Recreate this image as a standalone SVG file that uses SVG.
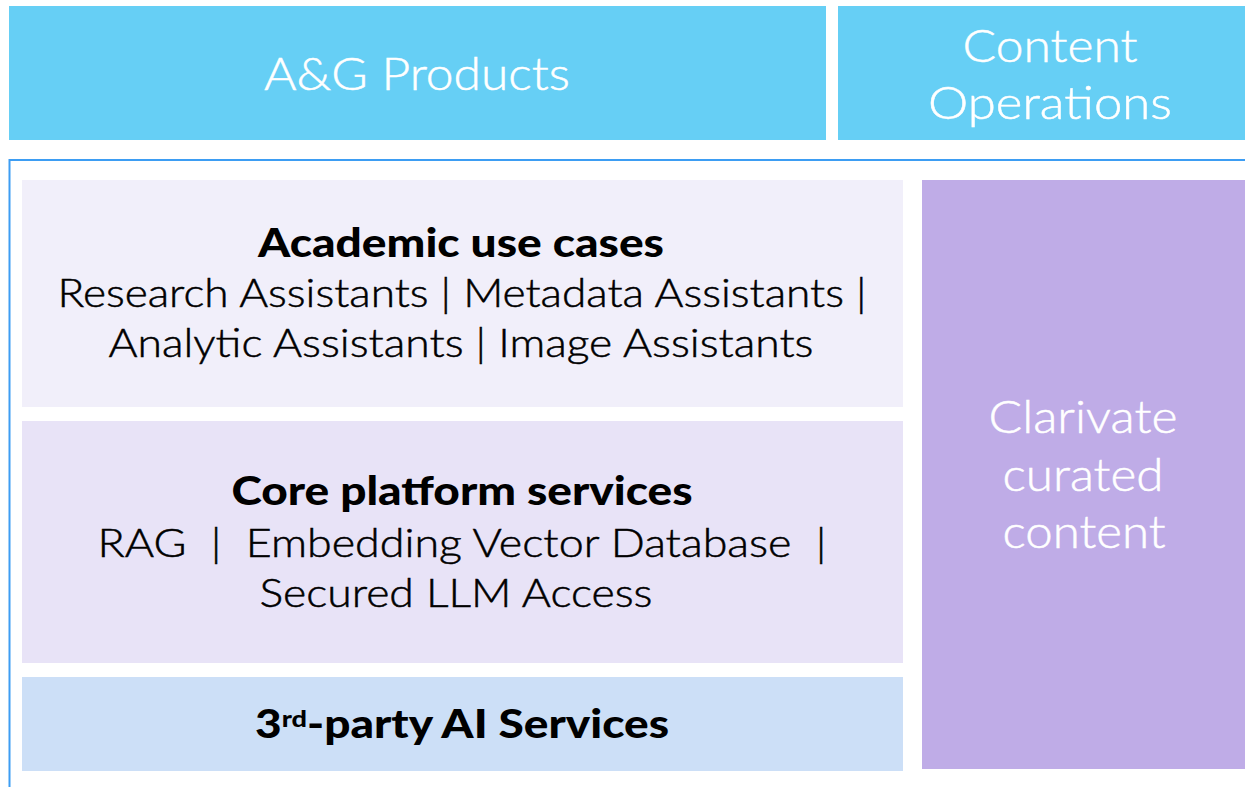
<svg xmlns="http://www.w3.org/2000/svg" width="1245" height="787" viewBox="0 0 1245 787">
<style>
.t{font-family:Lato,"Noto Sans","Liberation Sans",sans-serif;text-anchor:middle}
.w{fill:#ffffff;font-size:46px;font-weight:300;stroke:#ffffff;stroke-width:0.5}
.b{fill:#000000;font-size:39px;font-weight:900}
.r{fill:#000000;font-size:39px;font-weight:300;stroke:#000000;stroke-width:0.5}
.top{fill:#66CFF5}
</style>
<rect width="1245" height="787" fill="#ffffff"/>
<g id="ag-products">
<rect class="top" x="9" y="6" width="817" height="134"/>
<text class="t w" x="417" y="90" textLength="306" lengthAdjust="spacingAndGlyphs">A&amp;G Products</text>
</g>
<g id="content-operations">
<rect class="top" x="838" y="6" width="407" height="134"/>
<text class="t w" x="1050" y="62" textLength="175" lengthAdjust="spacingAndGlyphs">Content</text>
<text class="t w" x="1050" y="119" textLength="244" lengthAdjust="spacingAndGlyphs">Operations</text>
</g>
<g id="frame">
<path d="M9.5,787 V160 H1245" fill="none" stroke="#3D9DF3" stroke-width="2"/>
</g>
<g id="academic">
<rect x="22" y="180" width="881" height="227" fill="#F1EFFA"/>
<text class="t b" x="461" y="257" textLength="406" lengthAdjust="spacingAndGlyphs">Academic use cases</text>
<text class="t r" x="462" y="307" textLength="809" lengthAdjust="spacingAndGlyphs">Research Assistants | Metadata Assistants |</text>
<text class="t r" x="461" y="357" textLength="705" lengthAdjust="spacingAndGlyphs">Analytic Assistants | Image Assistants</text>
</g>
<g id="core">
<rect x="22" y="421" width="881" height="242" fill="#E8E3F7"/>
<text class="t b" x="462" y="505" textLength="461" lengthAdjust="spacingAndGlyphs">Core platform services</text>
<text class="t r" x="462" y="557" textLength="729" lengthAdjust="spacingAndGlyphs" xml:space="preserve">RAG  |  Embedding Vector Database  |</text>
<text class="t r" x="456" y="607" textLength="393" lengthAdjust="spacingAndGlyphs">Secured LLM Access</text>
</g>
<g id="third-party">
<rect x="22" y="677" width="881" height="94" fill="#CCDFF7"/>
<text class="t b" x="462" y="738" font-size="40" textLength="414" lengthAdjust="spacingAndGlyphs">3<tspan font-size="23" dy="-11">rd</tspan><tspan dy="11">-party AI Services</tspan></text>
</g>
<g id="clarivate">
<rect x="922" y="180" width="323" height="589" fill="#BFACE7"/>
<text class="t w" x="1083" y="433" font-size="44" textLength="189" lengthAdjust="spacingAndGlyphs">Clarivate</text>
<text class="t w" x="1083" y="491" font-size="44" textLength="161" lengthAdjust="spacingAndGlyphs">curated</text>
<text class="t w" x="1084" y="548" font-size="44" textLength="163" lengthAdjust="spacingAndGlyphs">content</text>
</g>
<g id="connectors"></g>
</svg>
